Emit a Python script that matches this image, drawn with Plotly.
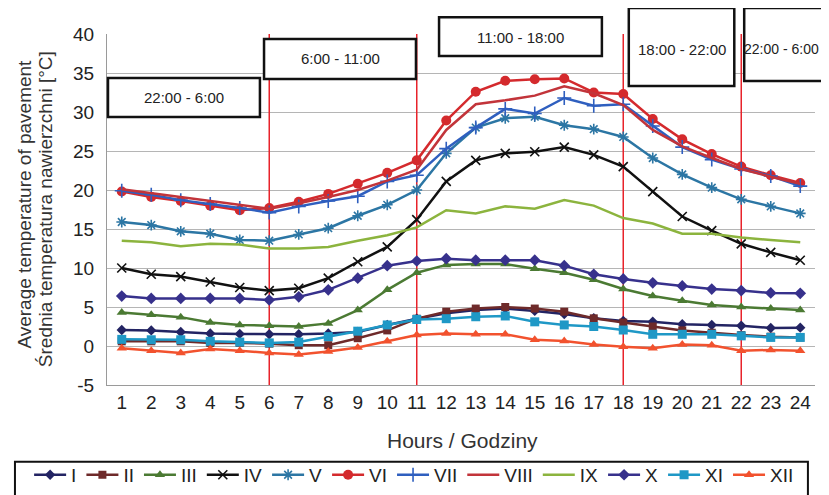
import plotly.graph_objects as go

hours = list(range(1, 25))
tick_labels = [str(h) for h in hours]
y_ticks = [-5, 0, 5, 10, 15, 20, 25, 30, 35, 40]
y_tick_labels = ["-5", "0", "5", "10", "15", "20", "25", "30", "35", "40"]

I_vals = [2.05, 2.0, 1.8, 1.6, 1.55, 1.5, 1.5, 1.6, 1.8, 2.7, 3.5, 4.2, 4.6, 4.8, 4.5, 4.1, 3.55, 3.2, 3.1, 2.8, 2.7, 2.6, 2.3, 2.35]
II_vals = [0.6, 0.6, 0.6, 0.4, 0.4, 0.3, 0.1, 0.1, 1.0, 2.0, 3.5, 4.4, 4.8, 5.0, 4.8, 4.4, 3.55, 3.0, 2.5, 2.0, 1.7, 1.4, 1.2, 1.1]
III_vals = [4.3, 4.0, 3.7, 3.0, 2.7, 2.6, 2.5, 2.9, 4.6, 7.2, 9.4, 10.4, 10.5, 10.5, 9.9, 9.4, 8.5, 7.3, 6.4, 5.8, 5.25, 5.0, 4.8, 4.6]
IV_vals = [10.0, 9.2, 8.9, 8.2, 7.5, 7.1, 7.4, 8.7, 10.8, 12.7, 16.2, 21.1, 23.8, 24.7, 24.9, 25.5, 24.5, 23.0, 19.8, 16.6, 14.8, 13.1, 12.0, 11.0]
V_vals = [15.9, 15.5, 14.7, 14.4, 13.6, 13.5, 14.3, 15.1, 16.7, 18.1, 20.0, 24.7, 28.0, 29.2, 29.4, 28.3, 27.8, 26.8, 24.1, 22.0, 20.3, 18.8, 17.9, 17.0]
VI_vals = [19.8, 19.1, 18.6, 18.0, 17.4, 17.7, 18.5, 19.5, 20.8, 22.2, 23.8, 28.9, 32.6, 34.0, 34.2, 34.3, 32.5, 32.3, 29.1, 26.5, 24.6, 23.0, 21.9, 20.9]
VII_vals = [19.9, 19.4, 18.7, 18.2, 17.7, 17.1, 17.9, 18.6, 19.2, 21.1, 21.9, 25.3, 28.0, 30.4, 29.8, 31.8, 30.8, 31.0, 28.2, 25.5, 23.9, 22.7, 21.8, 20.5]
VIII_vals = [20.1, 19.6, 19.1, 18.6, 18.1, 17.6, 18.3, 19.1, 20.0, 21.2, 22.6, 27.7, 31.0, 31.5, 32.1, 33.3, 32.4, 30.9, 27.7, 25.6, 24.1, 22.7, 21.7, 20.8]
IX_vals = [13.5, 13.3, 12.8, 13.1, 13.0, 12.5, 12.5, 12.7, 13.5, 14.2, 15.2, 17.4, 17.0, 17.9, 17.6, 18.7, 18.0, 16.4, 15.7, 14.4, 14.4, 13.9, 13.6, 13.3]
X_vals = [6.4, 6.1, 6.1, 6.1, 6.1, 5.9, 6.3, 7.2, 8.7, 10.3, 10.9, 11.2, 11.0, 11.0, 11.0, 10.3, 9.2, 8.6, 8.1, 7.7, 7.3, 7.1, 6.8, 6.75]
XI_vals = [0.85, 0.8, 0.8, 0.6, 0.5, 0.4, 0.5, 1.2, 1.9, 2.7, 3.4, 3.5, 3.75, 3.85, 3.1, 2.7, 2.5, 2.05, 1.5, 1.5, 1.5, 1.3, 1.1, 1.1]
XII_vals = [-0.3, -0.6, -0.9, -0.4, -0.6, -0.9, -1.1, -0.7, -0.2, 0.6, 1.4, 1.6, 1.5, 1.5, 0.8, 0.65, 0.2, -0.1, -0.3, 0.2, 0.1, -0.6, -0.5, -0.6]

period_bounds = [6, 11, 18, 22]
period_labels = ["22:00 - 6:00", "6:00 - 11:00", "11:00 - 18:00", "18:00 - 22:00", "22:00 - 6:00"]

x_title = "Hours / Godziny"
y_title_lines = ["Average temperature of pavement", "Średnia temperatura nawierzchni [°C]"]

series = [
    ("I", I_vals, "#232463", "diamond", 8, False),
    ("II", II_vals, "#6e2a2a", "square", 8, False),
    ("III", III_vals, "#4b7a33", "triangle-up", 9, False),
    ("IV", IV_vals, "#111111", "x-thin-open", 9, True),
    ("V", V_vals, "#2c76a4", "asterisk-open", 9, True),
    ("VI", VI_vals, "#d42a2d", "circle", 10, False),
    ("VII", VII_vals, "#2f5fbf", "cross-thin-open", 10, True),
    ("VIII", VIII_vals, "#c2343a", None, 0, False),
    ("IX", IX_vals, "#8cb43e", None, 0, False),
    ("X", X_vals, "#37318c", "diamond", 9, False),
    ("XI", XI_vals, "#1f98c6", "square", 9, False),
    ("XII", XII_vals, "#f2522e", "triangle-up", 9, False),
]

fig = go.Figure()
for name, vals, color, sym, size, thin in series:
    if sym is None:
        mode = "lines"
        marker = dict()
    else:
        mode = "lines+markers"
        marker = dict(symbol=sym, size=size, color=color,
                      line=dict(color=color, width=1.6 if thin else 0))
    fig.add_trace(go.Scatter(x=hours, y=vals, name=name, mode=mode,
                             line=dict(color=color, width=2.5), marker=marker))

# vertical red period lines
for b in period_bounds:
    fig.add_shape(type="line", xref="x", yref="y", x0=b, x1=b, y0=-5, y1=40,
                  line=dict(color="#e8232b", width=1.5), layer="between")

# period boxes (paper coords)
boxes = [
    (0.0014, 0.216, 0.7635, 0.8746),
    (0.2218, 0.4364, 0.8718, 0.9858),
    (0.469, 0.699, 0.937, 1.048),
    (0.737, 0.886, 0.852, 1.074),
    (0.900, 1.04, 0.866, 1.074),
]
text_pos = [
    (0.1087, 0.8191, "center", 15),
    (0.3291, 0.9288, "center", 15),
    (0.584, 0.989, "center", 15),
    (0.8115, 0.957, "center", 15),
    (0.8965, 0.957, "left", 14),
]
for (x0, x1, y0, y1), (tx, ty, al, fs), lab in zip(boxes, text_pos, period_labels):
    fig.add_shape(type="rect", xref="paper", yref="paper", x0=x0, x1=x1, y0=y0, y1=y1,
                  line=dict(color="#111111", width=2.5), fillcolor="white", layer="above")
    fig.add_annotation(xref="paper", yref="paper", x=tx, y=ty, text=lab, showarrow=False,
                       xanchor=al, yanchor="middle",
                       font=dict(size=fs, color="#222222"))

# legend frame
fig.add_shape(type="rect", xref="paper", yref="paper", x0=-0.130, x1=0.990, y0=-0.219, y1=-0.33,
              line=dict(color="#111111", width=2), fillcolor="rgba(0,0,0,0)", layer="above")

for xp, yp, line_text in zip([-0.1158, -0.0876], [0.514, 0.501], y_title_lines):
    fig.add_annotation(xref="paper", yref="paper", x=xp, y=yp, text=line_text, textangle=-90,
                       showarrow=False, xanchor="center", yanchor="middle",
                       font=dict(size=19, color="#333333"))
fig.add_annotation(xref="paper", yref="paper", x=0.502, y=-0.157, text=x_title,
                   showarrow=False, xanchor="center", yanchor="middle",
                   font=dict(size=21, color="#333333"))

fig.update_layout(
    width=821, height=487,
    margin=dict(l=99, r=14, t=26, b=110, autoexpand=False),
    paper_bgcolor="white", plot_bgcolor="white",
    font=dict(family="Liberation Sans, Arial, sans-serif", color="#222222"),
    showlegend=True,
    legend=dict(orientation="h", x=-0.110, y=-0.202, xanchor="left", yanchor="top",
                font=dict(size=19, color="#222222"), itemwidth=32,
                bgcolor="rgba(0,0,0,0)", tracegroupgap=0),
    xaxis=dict(range=[0.5, 24.5], tickvals=hours, ticktext=tick_labels, showgrid=False,
               showline=True, linecolor="#9a9a9a", linewidth=1, zeroline=False,
               tickfont=dict(size=19, color="#222222"), ticks="", automargin=False),
    yaxis=dict(range=[-5, 40], tickvals=y_ticks, ticktext=y_tick_labels, showgrid=True,
               gridcolor="#b5b5b5", gridwidth=1,
               showline=True, linecolor="#9a9a9a", linewidth=1, zeroline=False,
               tickfont=dict(size=19, color="#222222"), ticks="", automargin=False,
               ticklabelstandoff=8),
)

fig.write_html("out.html")
